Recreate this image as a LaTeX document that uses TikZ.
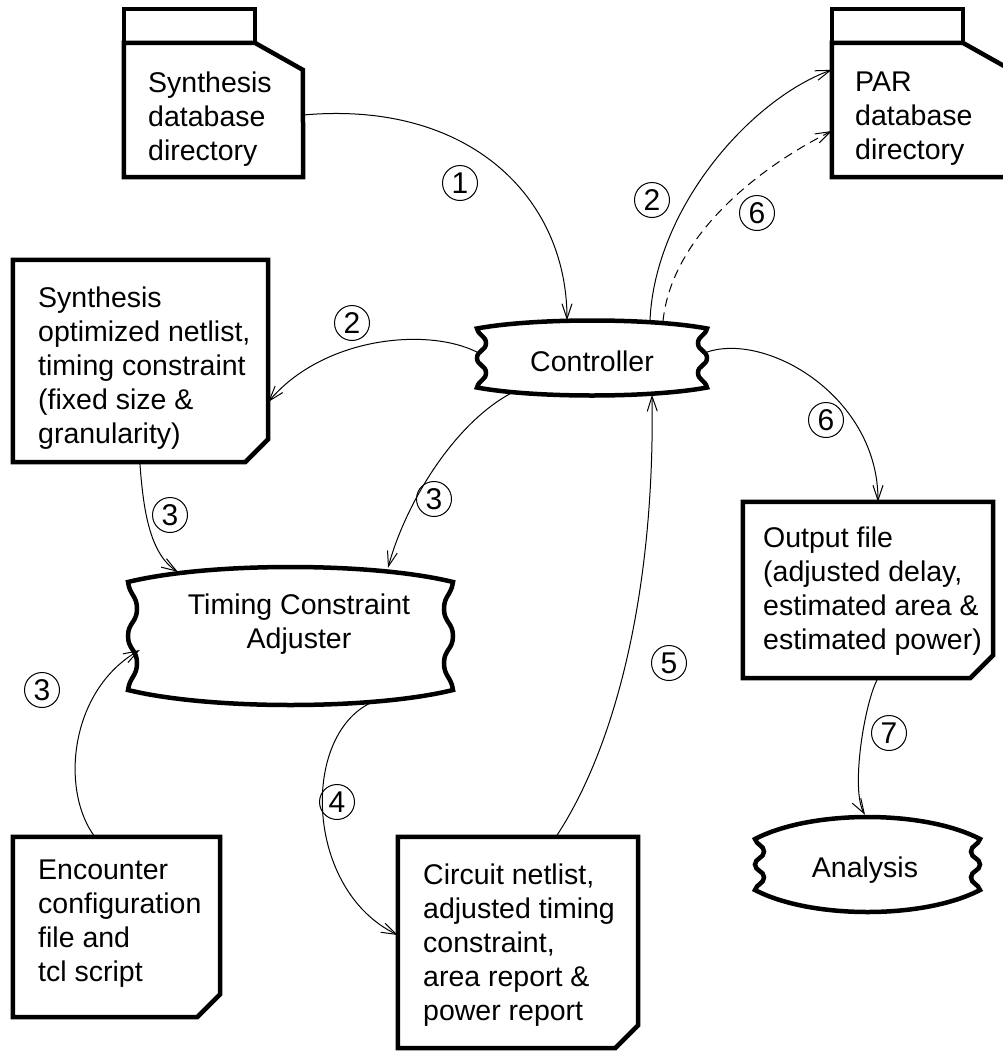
\documentclass[tikz,border=0pt]{standalone}
\usepackage{fontspec}
\setmainfont{Liberation Sans}
\usetikzlibrary{calc,arrows.meta}
\tikzset{
  shapeline/.style={line width=4.5pt, line join=miter},
  conn/.style={line width=1pt, -{Straight Barb[length=15pt,width=10pt,line width=1pt]}},
  dashedconn/.style={conn, dash pattern=on 9pt off 6pt},
  area/.style={draw=none, inner sep=0pt, rectangle},
  txt/.style={inner sep=0pt, align=left, font=\fontsize{28.5}{34}\selectfont},
  ctxt/.style={inner sep=0pt, align=center, font=\fontsize{28.5}{34}\selectfont},
  num/.style={circle, draw, line width=1pt, minimum size=35pt, inner sep=0pt, font=\fontsize{30}{30}\selectfont},
}
\newcommand\docoutline[2]{%
  \draw[shapeline] (#1.north west) -- (#1.north east) -- ($(#1.south east)+(0,-#2)$)
    -- ($(#1.south east)+(-#2,0)$) -- (#1.south west) -- cycle;}
\newcommand\folderoutline[1]{%
  \draw[shapeline] ($(#1.north west)+(0,-34)$) rectangle ($(#1.north west)+(131,0)$);
  \draw[shapeline] (#1.north west) -- ($(#1.north west)+(131,0)$) -- ($(#1.north west)+(179,27)$)
    -- (#1.south east) -- (#1.south west) -- cycle;}
\newcommand\wavyoutline[5]{%
  \pgfmathsetmacro\wvl{#1}\pgfmathsetmacro\wvt{#2}\pgfmathsetmacro\wvr{#3}\pgfmathsetmacro\wvb{#4}%
  \pgfmathsetmacro\wvd{#5}\pgfmathsetmacro\wve{9}%
  \pgfmathsetmacro\wvtc{\wvt+\wvd}\pgfmathsetmacro\wvbc{\wvb-\wvd}%
  \pgfmathsetmacro\wvtk{\wvt-\wvd/3}\pgfmathsetmacro\wvbk{\wvb+\wvd/3}%
  \pgfmathsetmacro\wvm{(\wvt+\wvb)/2}\pgfmathsetmacro\wvq{0.25*(\wvbc-\wvtc)}%
  \pgfmathsetmacro\wvyi{\wvtc+\wvq}\pgfmathsetmacro\wvyj{\wvbc-\wvq}%
  \pgfmathsetmacro\wvxa{\wvl+0.25*(\wvr-\wvl)}\pgfmathsetmacro\wvxb{\wvr-0.25*(\wvr-\wvl)}%
  \pgfmathsetmacro\wvh{0.5*\wvq}%
  \draw[shapeline] (\wvl,\wvtc) .. controls (\wvxa,\wvtk) and (\wvxb,\wvtk) .. (\wvr,\wvtc)
    .. controls (\wvr-\wve*0.2,\wvtc+\wvh) and (\wvr-\wve,\wvyi-\wvh) .. (\wvr-\wve,\wvyi)
    .. controls (\wvr-\wve,\wvyi+\wvh) and (\wvr,\wvm-\wvh) .. (\wvr,\wvm)
    .. controls (\wvr,\wvm+\wvh) and (\wvr-\wve,\wvyj-\wvh) .. (\wvr-\wve,\wvyj)
    .. controls (\wvr-\wve,\wvyj+\wvh) and (\wvr-\wve*0.2,\wvbc-\wvh) .. (\wvr,\wvbc)
    .. controls (\wvxb,\wvbk) and (\wvxa,\wvbk) .. (\wvl,\wvbc)
    .. controls (\wvl+\wve*0.2,\wvbc-\wvh) and (\wvl+\wve,\wvyj+\wvh) .. (\wvl+\wve,\wvyj)
    .. controls (\wvl+\wve,\wvyj-\wvh) and (\wvl,\wvm+\wvh) .. (\wvl,\wvm)
    .. controls (\wvl,\wvm-\wvh) and (\wvl+\wve,\wvyi+\wvh) .. (\wvl+\wve,\wvyi)
    .. controls (\wvl+\wve,\wvyi-\wvh) and (\wvl+\wve*0.2,\wvtc+\wvh) .. cycle;}
\begin{document}
\begin{tikzpicture}[x=1pt,y=-1pt]
\useasboundingbox (0,0) rectangle (1003,1052);
% areas
\node[area, minimum width=179pt, minimum height=134pt] (sdb) at (213.5,110) {};
\node[area, minimum width=179pt, minimum height=134pt] (par) at (921.5,110) {};
\node[area, minimum width=255pt, minimum height=202pt] (sod) at (140.5,361) {};
\node[area, minimum width=207pt, minimum height=180pt] (enc) at (116.5,927) {};
\node[area, minimum width=240pt, minimum height=211pt] (cir) at (518,942.5) {};
\node[area, minimum width=250pt, minimum height=176pt] (out) at (868,590) {};
\node[area, minimum width=230pt, minimum height=75pt] (ctrl) at (592,358) {};
\node[area, minimum width=325pt, minimum height=138pt] (tca) at (290.5,636) {};
\node[area, minimum width=225pt, minimum height=95pt] (ana) at (867.5,864.5) {};
% outlines
\folderoutline{sdb}
\folderoutline{par}
\docoutline{sod}{23}
\docoutline{enc}{23}
\docoutline{cir}{23}
\docoutline{out}{23}
\wavyoutline{477}{320.5}{707}{395.5}{8}
\wavyoutline{128}{567}{453}{705}{15}
\wavyoutline{755}{817}{980}{912}{22}
% texts
\node[txt, anchor=west] (sdb-t) at (148,119) {Synthesis\\database\\directory};
\node[txt, anchor=west] (par-t) at (855,119) {PAR\\database\\directory};
\node[txt, anchor=west] (sod-t) at (38,368) {Synthesis\\optimized netlist,\\timing constraint\\(fixed size \&\\granularity)};
\node[txt, anchor=west] (enc-t) at (38,924) {Encounter\\configuration\\file and\\tcl script};
\node[txt, anchor=west] (cir-t) at (423,945) {Circuit netlist,\\adjusted timing\\constraint,\\area report \&\\power report};
\node[txt, anchor=west] (out-t) at (763,591) {Output file\\(adjusted delay,\\estimated area \&\\estimated power)};
\node[ctxt] (ctrl-t) at (592,361) {Controller};
\node[ctxt] (tca-t) at (299,624) {Timing Constraint\\Adjuster};
\node[ctxt] (ana-t) at (865,870) {Analysis};
% connectors
\draw[conn] ($(sdb.east)+(0,5)$) .. controls +(167,-15) and +(0,-122) .. ($(ctrl.north)+(-25,0)$);
\draw[conn] ($(ctrl.north)+(58,0)$) .. controls +(5,-112) and +(-82,30) .. ($(par.north west)+(0,27)$);
\draw[dashedconn] ($(ctrl.north)+(71,1)$) .. controls +(8,-81) and +(-80,40) .. ($(par.west)+(0,21)$);
\draw[conn] ($(ctrl.west)+(0,-6)$) .. controls +(-50,-25) and +(55,-65) .. ($(sod.east)+(0,41)$);
\draw[conn] ($(ctrl.south)+(-80,-3)$) .. controls +(-57,30) and +(18,-66) .. ($(tca.north)+(97.5,1)$);
\draw[conn] ($(sod.south west)+(127,0)$) .. controls +(3,40) and +(-30,-19) .. ($(tca.north west)+(50,5)$);
\draw[conn] ($(enc.north west)+(82,0)$) .. controls +(-35,-47) and +(-70,40) .. ($(tca.west)+(12,14)$);
\draw[conn] ($(tca.south)+(81.5,-3)$) .. controls +(-72,33) and +(-93,-45) .. ($(cir.west)+(0,-7.5)$);
\draw[conn] ($(cir.north)+(38,0)$) .. controls +(64,-97) and +(3,184) .. ($(ctrl.south)+(60,-1)$);
\draw[conn] ($(ctrl.east)+(0,-6)$) .. controls +(60,-20) and +(0,-105) .. ($(out.north)+(10,0)$);
\draw[conn] ($(out.south)+(10,0)$) .. controls +(-13,22) and +(-15,-25) .. ($(ana.north)+(-2.5,-2)$);
% step numbers
\node[num] (n1) at (460,183) {1};
\node[num] (n2a) at (652,200) {2};
\node[num] (n6a) at (757,213) {6};
\node[num] (n2b) at (352,323) {2};
\node[num] (n6b) at (826,420) {6};
\node[num] (n3a) at (170,515) {3};
\node[num] (n3b) at (434,499) {3};
\node[num] (n5) at (669,663) {5};
\node[num] (n3c) at (42,690) {3};
\node[num] (n4) at (337,802) {4};
\node[num] (n7) at (889,733) {7};
\end{tikzpicture}
\end{document}
